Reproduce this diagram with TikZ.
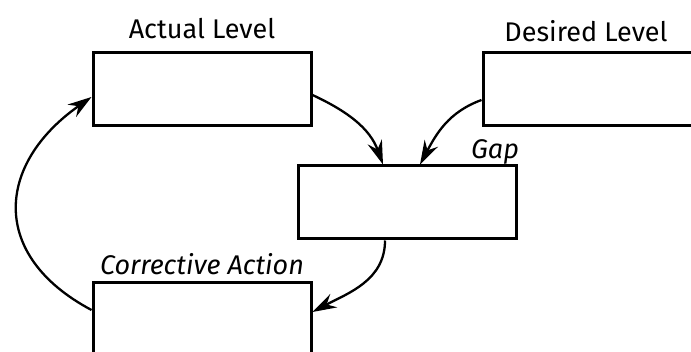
\documentclass[tikz,border=0pt]{standalone}
\usepackage{fontspec}
\setmainfont{Fira Sans}
\usetikzlibrary{arrows.meta}
\begin{document}
\begin{tikzpicture}[x=1pt,y=1pt,
  stock/.style={draw, line width=3pt, minimum width=218pt, minimum height=73pt, inner sep=0pt},
  lbl/.style={font=\fontsize{27}{30}\selectfont, inner sep=0pt},
  ilbl/.style={font=\fontsize{27}{30}\selectfont\itshape, inner sep=0pt},
  flow/.style={line width=2.3pt, -{Stealth[length=24pt,width=15pt,inset=8pt]}}]
  \useasboundingbox (0,0) rectangle (691,351);
  % stocks
  \node[stock] (actual)  at (202,261.5) {};
  \node[stock] (desired) at (592,261.5) {};
  \node[stock] (gap)     at (407,148.5) {};
  \node[stock] (action)  at (202,31.5) {};
  % labels
  \node[lbl]  (lactual)  at (202,322) {Actual Level};
  \node[lbl]  (ldesired) at (586,320) {Desired Level};
  \node[ilbl] (lgap)     at (495,199) {Gap};
  \node[ilbl] (laction)  at (202,87) {Corrective Action};
  % flows
  \draw[flow] ([yshift=-5.5pt]actual.east) to[out=-25,in=110] ([xshift=-24pt]gap.north);
  \draw[flow] ([yshift=-10.5pt]desired.west) to[out=200,in=62] ([xshift=13pt]gap.north);
  \draw[flow] ([xshift=-22pt]gap.south) to[out=-90,in=28] ([yshift=7.5pt]action.east);
  \draw[flow] ([yshift=9.5pt]action.west) to[out=152,in=-145,looseness=1.4] ([yshift=-7.5pt]actual.west);
\end{tikzpicture}
\end{document}
